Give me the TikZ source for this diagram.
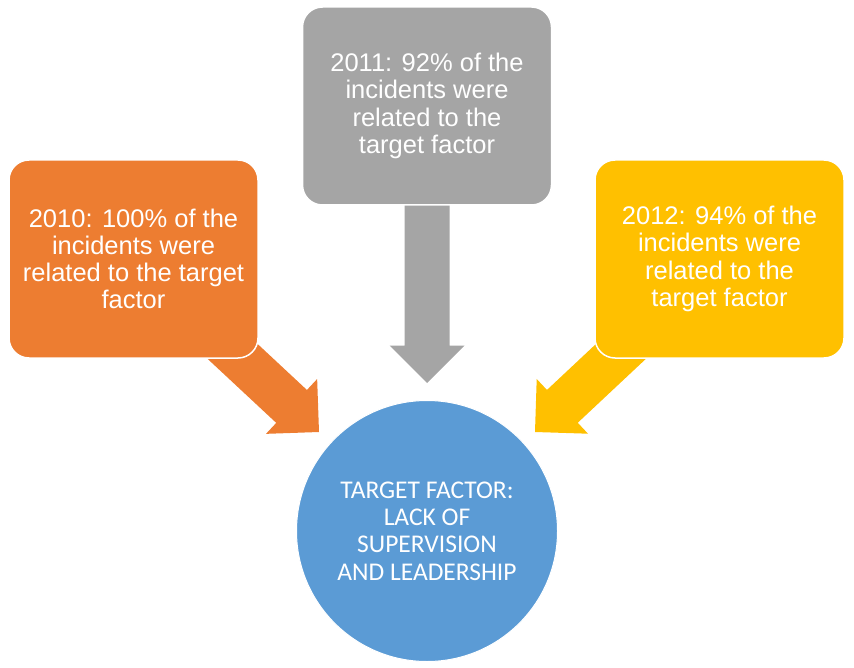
\documentclass[tikz,border=0pt]{standalone}
\usepackage{fontspec}
\setmainfont{Liberation Sans}
\newfontfamily\carlito{Carlito}
\usetikzlibrary{calc,backgrounds}
\definecolor{cOrange}{HTML}{ED7D31}
\definecolor{cGray}{HTML}{A5A5A5}
\definecolor{cYellow}{HTML}{FFC000}
\definecolor{cBlue}{HTML}{5B9BD5}
\newcommand{\blockarrow}[3]{%
  \path ($(#3)!37.5pt!(#2)$) coordinate (hb);
  \fill[#1] ($(#2)!22.5pt!90:(#3)$) -- ($(hb)!22.5pt!90:(#3)$) -- ($(hb)!37.5pt!90:(#3)$) -- (#3)
    -- ($(hb)!37.5pt!-90:(#3)$) -- ($(hb)!22.5pt!-90:(#3)$) -- ($(#2)!22.5pt!-90:(#3)$) -- cycle;}
\begin{document}
\begin{tikzpicture}[x=1pt,y=-1pt,
  box/.style={rectangle, rounded corners=20pt, minimum width=249pt, minimum height=198pt,
    draw=white, line width=1.5pt, text=white, align=center, inner sep=0pt,
    font=\fontsize{25.5}{27.2}\selectfont},
  hub/.style={circle, minimum size=261pt, inner sep=0pt, draw=white, line width=1pt,
    text=white, align=center, font=\carlito\fontsize{25.5}{27.4}\selectfont}]
\useasboundingbox (0,0) rectangle (854,668);
\node[box, fill=cOrange] (y2010) at (133.5,259) {2010: 100\% of the\\incidents were\\related to the target\\factor};
\node[box, fill=cGray] (y2011) at (427,106) {2011: 92\% of the\\incidents were\\related to the\\target factor};
\node[box, fill=cYellow] (y2012) at (719.5,259) {2012: 94\% of the\\incidents were\\related to the\\target factor};
\node[hub, fill=cBlue] (target) at (427,531) {TARGET FACTOR:\\LACK OF\\SUPERVISION\\AND LEADERSHIP};
\coordinate (tipA) at (319,432);
\coordinate (tipB) at (427,383);
\coordinate (tipC) at (535,432);
\begin{scope}[on background layer]
\blockarrow{cOrange}{y2010.center}{tipA}
\blockarrow{cGray}{y2011.center}{tipB}
\blockarrow{cYellow}{y2012.center}{tipC}
\end{scope}
\end{tikzpicture}
\end{document}
